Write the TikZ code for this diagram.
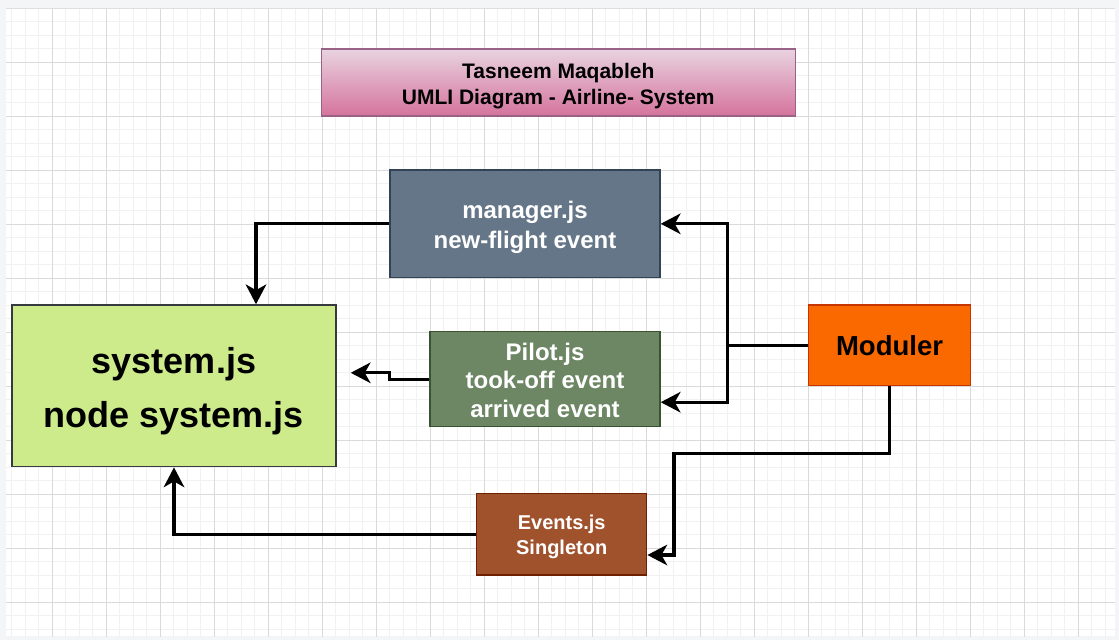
\documentclass[tikz,border=0pt]{standalone}
\usepackage{fontspec}
\setmainfont{Liberation Sans}
\usetikzlibrary{arrows.meta,calc}
\definecolor{bgout}{HTML}{F4F5F6}
\definecolor{gridminor}{HTML}{F1F1F1}
\definecolor{gridmajor}{HTML}{DADADA}
\definecolor{titletop}{HTML}{E8D3E0}
\definecolor{titlebot}{HTML}{D5739D}
\definecolor{titleline}{HTML}{996185}
\definecolor{mgrfill}{HTML}{647687}
\definecolor{mgrline}{HTML}{314354}
\definecolor{sysfill}{HTML}{CDEB8B}
\definecolor{sysline}{HTML}{36393D}
\definecolor{pilfill}{HTML}{6D8764}
\definecolor{pilline}{HTML}{3A5431}
\definecolor{modfill}{HTML}{FA6800}
\definecolor{modline}{HTML}{C73500}
\definecolor{evfill}{HTML}{A0522D}
\definecolor{evline}{HTML}{6D1F00}
\tikzset{
  boxnode/.style={rectangle, inner sep=0pt, line width=1.5pt, align=center},
  conn/.style={line width=3.3pt, -{Stealth[length=20pt,width=21pt,inset=6pt,line width=0pt]}},
  plainline/.style={line width=3.3pt},
  minorgrid/.style={draw=gridminor, line width=1pt},
  majorgrid/.style={draw=gridmajor, line width=1pt},
}
\begin{document}
\begin{tikzpicture}[x=1pt,y=-1pt]
\useasboundingbox (0,0) rectangle (1119,640);
\fill[bgout] (0,0) rectangle (1119,640);
\fill[white] (6,9) rectangle (1115,636);
\draw[draw=black!13, line width=1pt] (6,8.5) -- (1115,8.5);
\begin{scope}
\clip (6,9) rectangle (1115,636);
\foreach \i in {0,...,83} \draw[minorgrid] ({-1.7+13.5*\i},0) -- ++(0,640);
\foreach \j in {0,...,48} \draw[minorgrid] (0,{8.3+13.5*\j}) -- ++(1119,0);
\foreach \i in {0,...,21} \draw[majorgrid] ({-1.7+54*\i},0) -- ++(0,640);
\foreach \j in {0,...,12} \draw[majorgrid] (0,{8.3+54*\j}) -- ++(1119,0);
\end{scope}

\node[boxnode, draw=titleline, top color=titletop, bottom color=titlebot,
  font=\bfseries\fontsize{21}{25.5}\selectfont,
  minimum width=474pt, minimum height=67pt] (title) at (558.3,82.5)
  {\rule{0pt}{22.5pt}Tasneem Maqableh\\UMLI Diagram - Airline- System};

\node[boxnode, draw=mgrline, fill=mgrfill, text=white,
  font=\bfseries\fontsize{24}{29.5}\selectfont,
  minimum width=270pt, minimum height=107.7pt] (manager) at (525,223.8)
  {\rule{0pt}{24.5pt}manager.js\\new-flight event};

\node[boxnode, draw=sysline, fill=sysfill, text=black,
  font=\bfseries\fontsize{36}{54}\selectfont,
  minimum width=324pt, minimum height=161.7pt] (system) at (174,385.8)
  {\rule{0pt}{37pt}system.js\\node system.js};

\node[boxnode, draw=pilline, fill=pilfill, text=white,
  font=\bfseries\fontsize{24}{28.8}\selectfont,
  minimum width=230pt, minimum height=95pt] (pilot) at (545,379.2)
  {\rule{0pt}{19.5pt}Pilot.js\\took-off event\\arrived event};

\node[boxnode, draw=modline, fill=modfill, text=black,
  font=\bfseries\fontsize{27.5}{33}\selectfont,
  minimum width=162.4pt, minimum height=80.7pt] (moduler) at (889.5,345.3)
  {Moduler};

\node[boxnode, draw=evline, fill=evfill, text=white,
  font=\bfseries\fontsize{20}{25}\selectfont,
  minimum width=170pt, minimum height=81.7pt] (events) at (561.7,534.2)
  {\rule{0pt}{19.6pt}Events.js\\Singleton};

\coordinate (junction) at (727.3,345.3);
\coordinate (systip) at ([xshift=14pt,yshift=13pt]system.east);

\draw[conn] (manager.west) -| ([xshift=82pt]system.north);
\draw[plainline] (moduler.west) -- (junction);
\draw[conn] (junction) |- (manager.east);
\draw[conn] (junction) |- ([yshift=-23pt]pilot.east);
\draw[conn] (pilot.west) -- ++(-40,0) |- (systip);
\draw[conn] (moduler.south) -- ++(0,67) -| ([xshift=26.6pt,yshift=-20.8pt]events.east) -- ([yshift=-20.8pt]events.east);
\draw[conn] (events.west) -| (system.south);
\end{tikzpicture}
\end{document}
